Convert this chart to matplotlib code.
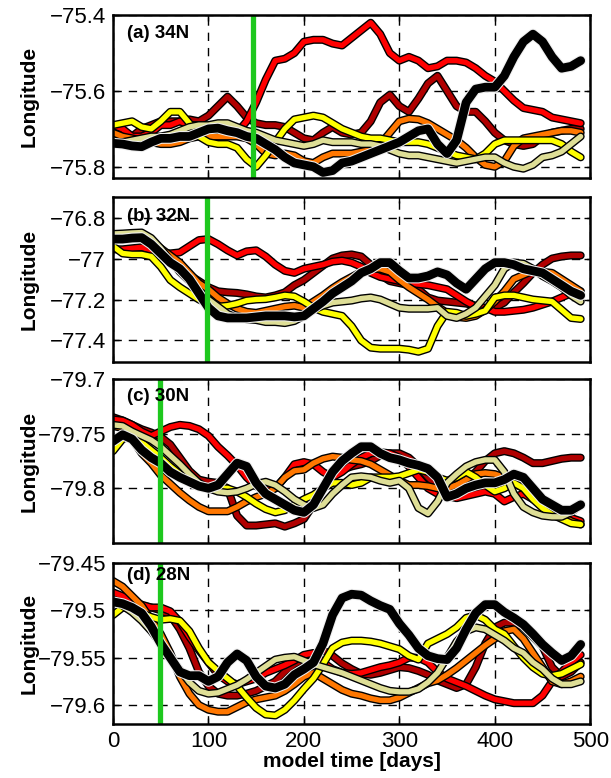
import numpy as np
import matplotlib
matplotlib.use('Agg')
import matplotlib.pyplot as plt
import matplotlib.patheffects as pe

plt.rcParams['font.family'] = ['Liberation Sans', 'DejaVu Sans']

# model time axis, one sample every 10 days
days = np.arange(0, 500, 10)

# ---- (a) 34N
a_darkred = [-75.71, -75.72, -75.72, -75.70, -75.69, -75.68, -75.68, -75.68, -75.675, -75.68,
             -75.665, -75.64, -75.615, -75.64, -75.67, -75.685, -75.69, -75.69, -75.695, -75.71,
             -75.725, -75.73, -75.71, -75.695, -75.71, -75.715, -75.71, -75.68, -75.63, -75.61,
             -75.64, -75.655, -75.62, -75.58, -75.56, -75.60, -75.64, -75.655, -75.655, -75.68,
             -75.71, -75.73, -75.74, -75.745, -75.74, -75.72, -75.71, -75.705, -75.70, -75.70]
a_red = [-75.69, -75.70, -75.72, -75.72, -75.71, -75.69, -75.69, -75.68, -75.69, -75.69,
         -75.70, -75.69, -75.70, -75.71, -75.68, -75.63, -75.57, -75.52, -75.515, -75.50,
         -75.47, -75.465, -75.465, -75.475, -75.48, -75.46, -75.44, -75.42, -75.45, -75.50,
         -75.52, -75.51, -75.52, -75.54, -75.535, -75.52, -75.52, -75.525, -75.54, -75.56,
         -75.575, -75.60, -75.625, -75.645, -75.65, -75.655, -75.67, -75.675, -75.68, -75.685]
a_orange = [-75.71, -75.72, -75.725, -75.73, -75.735, -75.74, -75.74, -75.735, -75.725, -75.72,
            -75.72, -75.72, -75.72, -75.72, -75.725, -75.74, -75.765, -75.77, -75.765, -75.77,
            -75.785, -75.79, -75.775, -75.765, -75.765, -75.765, -75.76, -75.755, -75.74, -75.71,
            -75.68, -75.673, -75.675, -75.685, -75.70, -75.715, -75.73, -75.75, -75.775, -75.795,
            -75.80, -75.785, -75.745, -75.725, -75.72, -75.715, -75.71, -75.705, -75.705, -75.71]
a_yellow = [-75.69, -75.685, -75.68, -75.695, -75.70, -75.68, -75.655, -75.655, -75.685, -75.72,
            -75.735, -75.74, -75.74, -75.75, -75.78, -75.80, -75.77, -75.735, -75.70, -75.675,
            -75.67, -75.665, -75.67, -75.685, -75.70, -75.71, -75.72, -75.725, -75.725, -75.73,
            -75.735, -75.735, -75.735, -75.74, -75.75, -75.76, -75.77, -75.775, -75.78, -75.765,
            -75.74, -75.73, -75.73, -75.73, -75.73, -75.73, -75.73, -75.74, -75.76, -75.775]
a_khaki = [-75.735, -75.735, -75.73, -75.725, -75.72, -75.72, -75.715, -75.705, -75.695, -75.69,
           -75.69, -75.685, -75.685, -75.695, -75.705, -75.71, -75.72, -75.73, -75.735, -75.74,
           -75.745, -75.74, -75.73, -75.735, -75.735, -75.735, -75.74, -75.74, -75.745, -75.755,
           -75.765, -75.77, -75.77, -75.775, -75.78, -75.785, -75.79, -75.785, -75.78, -75.775,
           -75.775, -75.79, -75.80, -75.805, -75.795, -75.775, -75.77, -75.76, -75.74, -75.72]
a_black = [-75.738, -75.74, -75.745, -75.747, -75.735, -75.725, -75.725, -75.72, -75.72, -75.71,
           -75.70, -75.698, -75.705, -75.71, -75.72, -75.725, -75.74, -75.755, -75.775, -75.79,
           -75.795, -75.80, -75.815, -75.81, -75.79, -75.785, -75.775, -75.765, -75.755, -75.745,
           -75.735, -75.72, -75.705, -75.70, -75.74, -75.765, -75.73, -75.63, -75.595, -75.59,
           -75.59, -75.56, -75.51, -75.47, -75.45, -75.47, -75.51, -75.54, -75.535, -75.52]

# ---- (b) 32N
b_darkred = [-76.89, -76.885, -76.885, -76.89, -76.93, -76.97, -77.01, -77.04, -77.08, -77.11,
             -77.14, -77.16, -77.165, -77.168, -77.175, -77.185, -77.19, -77.18, -77.165, -77.13,
             -77.105, -77.07, -77.035, -77.00, -76.985, -76.98, -76.99, -77.03, -77.08, -77.11,
             -77.12, -77.13, -77.15, -77.19, -77.205, -77.21, -77.215, -77.22, -77.23, -77.25,
             -77.24, -77.215, -77.165, -77.12, -77.07, -77.03, -77.00, -76.99, -76.985, -76.985]
b_red = [-76.955, -76.955, -76.95, -76.945, -76.96, -76.97, -76.975, -76.97, -76.94, -76.91,
         -76.905, -76.93, -76.96, -76.985, -76.965, -76.96, -76.99, -77.03, -77.06, -77.07,
         -77.05, -77.04, -77.03, -77.015, -77.01, -77.02, -77.04, -77.07, -77.09, -77.10,
         -77.11, -77.12, -77.125, -77.13, -77.14, -77.15, -77.18, -77.21, -77.235, -77.24,
         -77.26, -77.26, -77.255, -77.25, -77.24, -77.225, -77.21, -77.19, -77.17, -77.16]
b_orange = [-76.89, -76.885, -76.885, -76.89, -76.92, -76.95, -76.985, -77.02, -77.07, -77.12,
            -77.15, -77.19, -77.22, -77.245, -77.26, -77.265, -77.255, -77.245, -77.235, -77.23,
            -77.24, -77.21, -77.18, -77.145, -77.115, -77.09, -77.065, -77.05, -77.05, -77.065,
            -77.105, -77.14, -77.17, -77.20, -77.235, -77.265, -77.285, -77.29, -77.28, -77.25,
            -77.21, -77.16, -77.10, -77.08, -77.06, -77.065, -77.07, -77.10, -77.13, -77.16]
b_yellow = [-76.94, -76.975, -76.98, -76.98, -76.99, -77.04, -77.105, -77.14, -77.17, -77.20,
            -77.22, -77.235, -77.23, -77.22, -77.205, -77.20, -77.198, -77.19, -77.18, -77.185,
            -77.21, -77.24, -77.26, -77.27, -77.28, -77.33, -77.40, -77.435, -77.44, -77.44,
            -77.44, -77.445, -77.455, -77.44, -77.33, -77.26, -77.265, -77.28, -77.27, -77.255,
            -77.19, -77.18, -77.18, -77.19, -77.20, -77.205, -77.21, -77.25, -77.29, -77.295]
b_khaki = [-76.88, -76.878, -76.875, -76.873, -76.90, -76.95, -77.01, -77.065, -77.11, -77.16,
           -77.20, -77.235, -77.27, -77.29, -77.296, -77.30, -77.31, -77.31, -77.315, -77.305,
           -77.28, -77.25, -77.23, -77.215, -77.21, -77.205, -77.195, -77.19, -77.20, -77.22,
           -77.24, -77.245, -77.245, -77.245, -77.24, -77.28, -77.29, -77.27, -77.24, -77.185,
           -77.13, -77.05, -77.02, -77.025, -77.05, -77.085, -77.11, -77.14, -77.18, -77.21]
b_black = [-76.905, -76.905, -76.90, -76.898, -76.93, -76.975, -77.02, -77.05, -77.10, -77.17,
           -77.24, -77.28, -77.29, -77.29, -77.29, -77.285, -77.28, -77.28, -77.28, -77.285,
           -77.28, -77.245, -77.21, -77.17, -77.14, -77.11, -77.07, -77.05, -77.02, -77.02,
           -77.06, -77.095, -77.095, -77.085, -77.065, -77.08, -77.12, -77.15, -77.10, -77.05,
           -77.02, -77.02, -77.03, -77.05, -77.06, -77.07, -77.10, -77.13, -77.16, -77.18]

# ---- (c) 30N
c_darkred = [-79.735, -79.738, -79.742, -79.746, -79.749, -79.753, -79.76, -79.772, -79.784, -79.792,
             -79.794, -79.795, -79.80, -79.825, -79.834, -79.834, -79.833, -79.832, -79.835, -79.832,
             -79.828, -79.815, -79.80, -79.79, -79.783, -79.78, -79.778, -79.775, -79.77, -79.768,
             -79.768, -79.772, -79.78, -79.79, -79.798, -79.805, -79.80, -79.792, -79.785, -79.775,
             -79.768, -79.766, -79.768, -79.772, -79.777, -79.777, -79.775, -79.773, -79.772, -79.772]
c_red = [-79.737, -79.738, -79.742, -79.748, -79.752, -79.748, -79.744, -79.742, -79.743, -79.746,
         -79.752, -79.762, -79.77, -79.779, -79.79, -79.798, -79.802, -79.80, -79.79, -79.778,
         -79.776, -79.778, -79.785, -79.79, -79.785, -79.778, -79.772, -79.768, -79.767, -79.768,
         -79.772, -79.78, -79.79, -79.80, -79.805, -79.807, -79.809, -79.807, -79.805, -79.803,
         -79.805, -79.812, -79.808, -79.805, -79.81, -79.815, -79.82, -79.823, -79.827, -79.83]
c_orange = [-79.743, -79.745, -79.755, -79.768, -79.777, -79.788, -79.796, -79.804, -79.811, -79.817,
            -79.821, -79.821, -79.821, -79.817, -79.812, -79.808, -79.805, -79.80, -79.79, -79.784,
            -79.783, -79.777, -79.773, -79.771, -79.772, -79.774, -79.775, -79.778, -79.783, -79.788,
            -79.793, -79.797, -79.797, -79.798, -79.80, -79.80, -79.797, -79.792, -79.787, -79.786,
            -79.787, -79.79, -79.795, -79.80, -79.808, -79.815, -79.82, -79.825, -79.83, -79.833]
c_yellow = [-79.766, -79.755, -79.752, -79.758, -79.765, -79.772, -79.78, -79.787, -79.793, -79.797,
            -79.80, -79.80, -79.80, -79.803, -79.808, -79.814, -79.819, -79.822, -79.82, -79.815,
            -79.81, -79.806, -79.80, -79.795, -79.795, -79.797, -79.795, -79.79, -79.79, -79.79,
            -79.789, -79.786, -79.783, -79.785, -79.79, -79.793, -79.79, -79.785, -79.79, -79.797,
            -79.803, -79.80, -79.795, -79.80, -79.81, -79.818, -79.824, -79.828, -79.832, -79.833]
c_khaki = [-79.742, -79.743, -79.748, -79.752, -79.756, -79.762, -79.77, -79.778, -79.787, -79.795,
           -79.80, -79.803, -79.804, -79.803, -79.80, -79.796, -79.794, -79.797, -79.803, -79.81,
           -79.815, -79.818, -79.815, -79.805, -79.797, -79.79, -79.789, -79.79, -79.793, -79.795,
           -79.793, -79.80, -79.818, -79.823, -79.812, -79.795, -79.787, -79.78, -79.776, -79.774,
           -79.774, -79.785, -79.805, -79.817, -79.822, -79.825, -79.826, -79.826, -79.822, -79.815]
c_black = [-79.757, -79.751, -79.755, -79.765, -79.772, -79.777, -79.785, -79.79, -79.794, -79.798,
           -79.80, -79.797, -79.787, -79.777, -79.78, -79.795, -79.805, -79.81, -79.815, -79.82,
           -79.822, -79.815, -79.80, -79.785, -79.775, -79.768, -79.762, -79.762, -79.768, -79.772,
           -79.774, -79.777, -79.779, -79.782, -79.79, -79.808, -79.805, -79.80, -79.797, -79.795,
           -79.795, -79.792, -79.787, -79.79, -79.80, -79.81, -79.815, -79.82, -79.82, -79.815]

# ---- (d) 28N
d_darkred = [-79.483, -79.488, -79.492, -79.495, -79.497, -79.50, -79.505, -79.52, -79.54, -79.565,
             -79.58, -79.588, -79.59, -79.59, -79.588, -79.585, -79.58, -79.575, -79.565, -79.557,
             -79.552, -79.547, -79.542, -79.548, -79.556, -79.562, -79.567, -79.568, -79.566, -79.563,
             -79.56, -79.561, -79.564, -79.568, -79.574, -79.578, -79.582, -79.578, -79.56, -79.535,
             -79.518, -79.513, -79.513, -79.518, -79.528, -79.538, -79.56, -79.57, -79.565, -79.555]
d_red = [-79.481, -79.485, -79.49, -79.494, -79.497, -79.497, -79.501, -79.512, -79.528, -79.542,
         -79.555, -79.568, -79.575, -79.578, -79.575, -79.572, -79.566, -79.562, -79.558, -79.553,
         -79.547, -79.545, -79.555, -79.562, -79.566, -79.567, -79.566, -79.563, -79.56, -79.558,
         -79.555, -79.55, -79.55, -79.555, -79.565, -79.572, -79.576, -79.58, -79.585, -79.59,
         -79.594, -79.596, -79.598, -79.598, -79.598, -79.59, -79.575, -79.565, -79.555, -79.547]
d_orange = [-79.469, -79.475, -79.485, -79.495, -79.51, -79.525, -79.545, -79.57, -79.588, -79.60,
            -79.605, -79.607, -79.607, -79.602, -79.597, -79.594, -79.592, -79.59, -79.585, -79.578,
            -79.57, -79.566, -79.572, -79.578, -79.584, -79.588, -79.59, -79.593, -79.595, -79.595,
            -79.592, -79.587, -79.582, -79.577, -79.574, -79.568, -79.561, -79.553, -79.545, -79.537,
            -79.53, -79.522, -79.52, -79.53, -79.545, -79.56, -79.575, -79.578, -79.575, -79.57]
d_yellow = [-79.505, -79.497, -79.499, -79.503, -79.507, -79.51, -79.509, -79.511, -79.522, -79.54,
            -79.555, -79.564, -79.572, -79.58, -79.592, -79.603, -79.61, -79.611, -79.605, -79.595,
            -79.583, -79.572, -79.557, -79.54, -79.534, -79.532, -79.532, -79.533, -79.535, -79.538,
            -79.541, -79.548, -79.552, -79.535, -79.53, -79.525, -79.518, -79.508, -79.505, -79.51,
            -79.52, -79.525, -79.538, -79.55, -79.56, -79.567, -79.569, -79.567, -79.562, -79.557]
d_khaki = [-79.49, -79.495, -79.502, -79.511, -79.522, -79.535, -79.55, -79.563, -79.576, -79.585,
           -79.588, -79.587, -79.583, -79.579, -79.573, -79.566, -79.559, -79.552, -79.55, -79.549,
           -79.553, -79.557, -79.56, -79.563, -79.566, -79.57, -79.574, -79.578, -79.582, -79.585,
           -79.586, -79.586, -79.583, -79.576, -79.566, -79.55, -79.533, -79.522, -79.518, -79.52,
           -79.526, -79.532, -79.54, -79.545, -79.555, -79.562, -79.572, -79.578, -79.578, -79.575]
d_black = [-79.491, -79.493, -79.497, -79.503, -79.517, -79.535, -79.55, -79.565, -79.569, -79.569,
           -79.575, -79.57, -79.555, -79.546, -79.553, -79.57, -79.58, -79.582, -79.578, -79.568,
           -79.562, -79.555, -79.535, -79.505, -79.487, -79.483, -79.484, -79.49, -79.495, -79.499,
           -79.514, -79.526, -79.54, -79.548, -79.551, -79.552, -79.54, -79.52, -79.503, -79.494,
           -79.494, -79.502, -79.508, -79.515, -79.525, -79.536, -79.545, -79.553, -79.548, -79.536]

labels = ['(a) 34N', '(b) 32N', '(c) 30N', '(d) 28N']
green_day = [147, 98, 49, 49]
ylims = [(-75.83, -75.4), (-77.505, -76.7), (-79.85, -79.7), (-79.62, -79.45)]
yticks = [[-75.8, -75.6, -75.4], [-77.4, -77.2, -77.0, -76.8],
          [-79.8, -79.75, -79.7], [-79.6, -79.55, -79.5, -79.45]]
yticklabels = [['\u221275.8', '\u221275.6', '\u221275.4'],
               ['\u221277.4', '\u221277.2', '\u221277', '\u221276.8'],
               ['\u221279.8', '\u221279.75', '\u221279.7'],
               ['\u221279.6', '\u221279.55', '\u221279.5', '\u221279.45']]
series = [
    [a_darkred, a_red, a_orange, a_yellow, a_khaki, a_black],
    [b_darkred, b_red, b_orange, b_yellow, b_khaki, b_black],
    [c_darkred, c_red, c_orange, c_yellow, c_khaki, c_black],
    [d_darkred, d_red, d_orange, d_yellow, d_khaki, d_black],
]
colors = ['#b00000', '#ff0000', '#ff7700', '#ffff00', '#dede96', '#000000']

fig = plt.figure(figsize=(6.11, 7.78), dpi=100)
# axes boxes in figure fractions: left, bottom, width, height
boxes = [(0.185, 0.771, 0.781, 0.2095),
         (0.185, 0.5347, 0.781, 0.212),
         (0.185, 0.302, 0.781, 0.211),
         (0.185, 0.0694, 0.781, 0.207)]
label_y = [0.89, 0.88, 0.89, 0.92]

for i in range(4):
    ax = fig.add_axes(boxes[i])
    for vals, col in zip(series[i], colors):
        if col == '#000000':
            ax.plot(days, vals, color=col, lw=6.3, solid_joinstyle='round', solid_capstyle='round',
                    path_effects=[pe.Stroke(linewidth=7.8, foreground='#eeeeee'), pe.Normal()], zorder=4)
        else:
            ax.plot(days, vals, color=col, lw=3.8, solid_joinstyle='round', solid_capstyle='round',
                    path_effects=[pe.Stroke(linewidth=5.8, foreground='k'), pe.Normal()], zorder=3)
    ax.axvline(green_day[i], color='#1ec81e', lw=3.8, zorder=6)
    ax.set_xlim(0, 500)
    ax.set_ylim(*ylims[i])
    ax.set_yticks(yticks[i])
    ax.set_yticklabels(yticklabels[i])
    ax.set_xticks([0, 100, 200, 300, 400, 500])
    ax.grid(True, color='k', ls=(0, (6, 5)), lw=1.0, zorder=1)
    ax.tick_params(direction='in', length=4, width=1, top=True, right=True, labelsize=16, pad=5)
    for sp in ax.spines.values():
        sp.set_linewidth(1.8)
        sp.set_zorder(7)
    ax.set_ylabel('Longitude', fontsize=15, fontweight='bold')
    ax.yaxis.set_label_coords(-0.155, 0.5)
    ax.text(0.03, label_y[i], labels[i], transform=ax.transAxes, fontsize=13.5,
            fontweight='bold', va='center', ha='left', zorder=8)
    if i < 3:
        ax.set_xticklabels([])
    else:
        ax.set_xlabel('model time [days]', fontsize=15, fontweight='bold', labelpad=0)

fig.savefig('out.png', dpi=100)
